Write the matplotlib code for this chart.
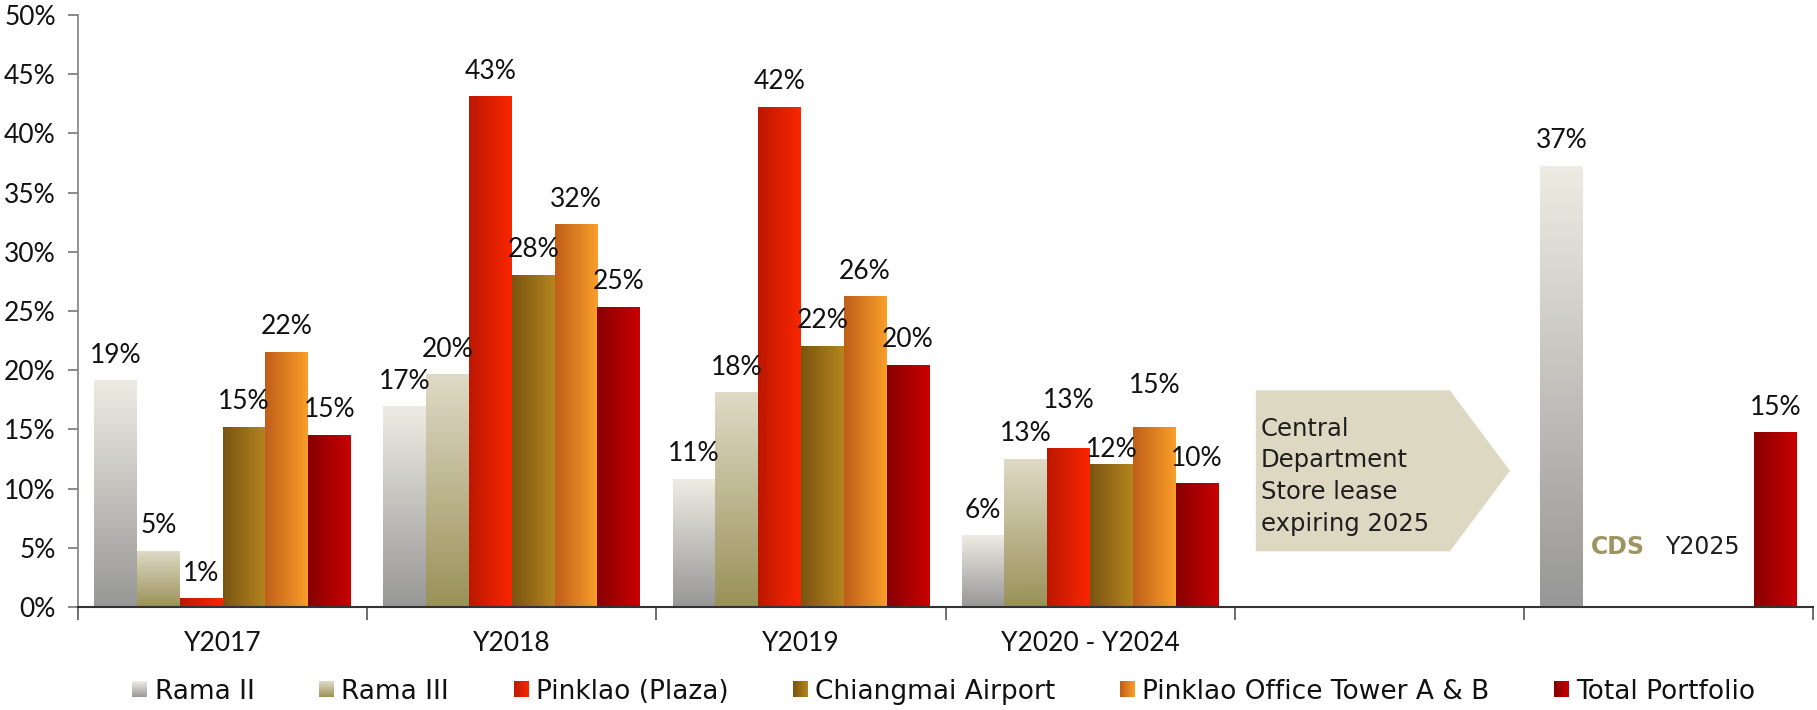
import numpy as np
import matplotlib
matplotlib.use('Agg')
import matplotlib.pyplot as plt
from matplotlib.colors import LinearSegmentedColormap, to_rgb
from matplotlib.patches import Rectangle, Polygon, Patch
from matplotlib.legend_handler import HandlerBase

plt.rcParams['font.family'] = ['Lato', 'DejaVu Sans']

nan = np.nan
categories = ['Y2017', 'Y2018', 'Y2019', 'Y2020 - Y2024', '', '']
series_names = ['Rama II', 'Rama III', 'Pinklao (Plaza)', 'Chiangmai Airport',
                'Pinklao Office Tower A & B', 'Total Portfolio']
rama_ii = [19.1, 16.9, 10.8, 6.0, nan, 37.2]
rama_iii = [4.7, 19.6, 18.1, 12.5, nan, nan]
pinklao_plaza = [0.7, 43.1, 42.2, 13.4, nan, nan]
chiangmai_airport = [15.2, 28.0, 22.0, 12.0, nan, nan]
pinklao_office = [21.5, 32.3, 26.2, 15.2, nan, nan]
total_portfolio = [14.5, 25.3, 20.4, 10.4, nan, 14.7]
y_ticks = [0, 5, 10, 15, 20, 25, 30, 35, 40, 45, 50]
callout_lines = ['Central', 'Department', 'Store lease', 'expiring 2025']

series_values = [rama_ii, rama_iii, pinklao_plaza, chiangmai_airport,
                 pinklao_office, total_portfolio]
# gradient (start colour, end colour, direction)
grads = [('#979797', '#EEEBE2', 'v'),
         ('#9A9158', '#DEDAC6', 'v'),
         ('#BC1800', '#FA2600', 'h'),
         ('#7A5411', '#B5851F', 'h'),
         ('#BF5E19', '#FA9E2A', 'h'),
         ('#870000', '#C90000', 'h')]
# label offsets (points above bar top); hand-moved labels in the last group
label_offset_default = 13
label_offset_special = {(2, 3): 29, (3, 3): 6, (4, 3): 24.5}

fig = plt.figure(figsize=(18.17, 7.10), dpi=100)
ax = fig.add_axes([78 / 1817, 1 - 607 / 710, (1813 - 78) / 1817, (607 - 15) / 710])

x = np.arange(len(categories))
bw = 0.148
for i, vals in enumerate(series_values):
    c0, c1, d = grads[i]
    cmap = LinearSegmentedColormap.from_list('g%d' % i, [c0, c1])
    bars = ax.bar(x + (i - 2.5) * bw, vals, bw, facecolor='none', edgecolor='none', zorder=2)
    for j, (rect, v) in enumerate(zip(bars.patches, vals)):
        if np.isnan(v):
            continue
        x0, y0 = rect.get_x(), rect.get_y()
        w, h = rect.get_width(), rect.get_height()
        if d == 'v':
            arr = np.linspace(0, 1, 256).reshape(-1, 1)
        else:
            arr = np.linspace(0, 1, 256).reshape(1, -1)
        ax.imshow(arr, cmap=cmap, extent=[x0, x0 + w, y0, y0 + h], origin='lower',
                  aspect='auto', zorder=2, interpolation='bilinear')
        off = label_offset_special.get((i, j), label_offset_default)
        ax.annotate('%d%%' % int(np.floor(v + 0.5)), (x0 + w / 2, y0 + h),
                    xytext=(0, off), textcoords='offset points', ha='center',
                    va='baseline', fontsize=19, color='#111111', zorder=4)

ax.set_xlim(-0.5, len(categories) - 0.5)
ax.set_ylim(0, 50)
ax.set_yticks(y_ticks)
ax.set_yticklabels(['%d%%' % t for t in y_ticks])
ax.set_xticks(x)
ax.set_xticklabels(categories)
ax.set_xticks(np.arange(len(categories) + 1) - 0.5, minor=True)
ax.tick_params(axis='x', which='major', length=0, pad=17, labelsize=19, labelcolor='#111111')
ax.tick_params(axis='x', which='minor', length=9, width=1.2, color='#555555', direction='out')
ax.tick_params(axis='y', length=7, width=1.2, color='#777777', pad=9, labelsize=19,
               labelcolor='#111111')
for s in ['top', 'right']:
    ax.spines[s].set_visible(False)
ax.spines['left'].set_color('#808080')
ax.spines['left'].set_linewidth(1.2)
ax.spines['bottom'].set_color('#333333')
ax.spines['bottom'].set_linewidth(1.5)
ax.spines['bottom'].set_zorder(5)

# arrow callout
arrow = Polygon([(3.573, 18.3), (4.244, 18.3), (4.452, 11.5), (4.244, 4.7), (3.573, 4.7)],
                closed=True, facecolor='#DCD8C2', edgecolor='none', zorder=1)
ax.add_patch(arrow)
for k, line in enumerate(callout_lines):
    ax.text(3.59, 14.47 - k * 2.68, line, ha='left', va='baseline', fontsize=17.5,
            family='DejaVu Sans', color='#1e1e1e', zorder=3)
ax.text(4.825, 4.48, 'CDS', ha='center', va='baseline', fontsize=17, fontweight='bold',
        family='DejaVu Sans', color='#9E9462', zorder=3)
ax.text(5.116, 4.48, 'Y2025', ha='center', va='baseline', fontsize=17,
        family='DejaVu Sans', color='#1e1e1e', zorder=3)


class GradHandler(HandlerBase):
    def __init__(self, c0, c1, d):
        super().__init__()
        self.c0, self.c1, self.d = np.array(to_rgb(c0)), np.array(to_rgb(c1)), d

    def create_artists(self, legend, orig_handle, xdescent, ydescent, width, height,
                       fontsize, trans):
        n = 24
        arts = []
        for k in range(n):
            t = k / (n - 1)
            col = self.c0 * (1 - t) + self.c1 * t
            if self.d == 'v':
                r = Rectangle((-xdescent, -ydescent + k * height / n), width, height / n * 1.05,
                              facecolor=col, edgecolor='none', transform=trans)
            else:
                r = Rectangle((-xdescent + k * width / n, -ydescent), width / n * 1.05, height,
                              facecolor=col, edgecolor='none', transform=trans)
            arts.append(r)
        return arts


handles = [Patch(label=n) for n in series_names]
hmap = {h: GradHandler(*g) for h, g in zip(handles, grads)}
fig.legend(handles=handles, labels=series_names, handler_map=hmap, loc='center',
           bbox_to_anchor=(0.5195, 0.026), ncol=6, frameon=False,
           prop={'family': 'DejaVu Sans', 'size': 19},
           handlelength=0.57, handleheight=0.57, handletextpad=0.27, columnspacing=2.45,
           labelcolor='#111111')

fig.savefig('out.png', dpi=100)
